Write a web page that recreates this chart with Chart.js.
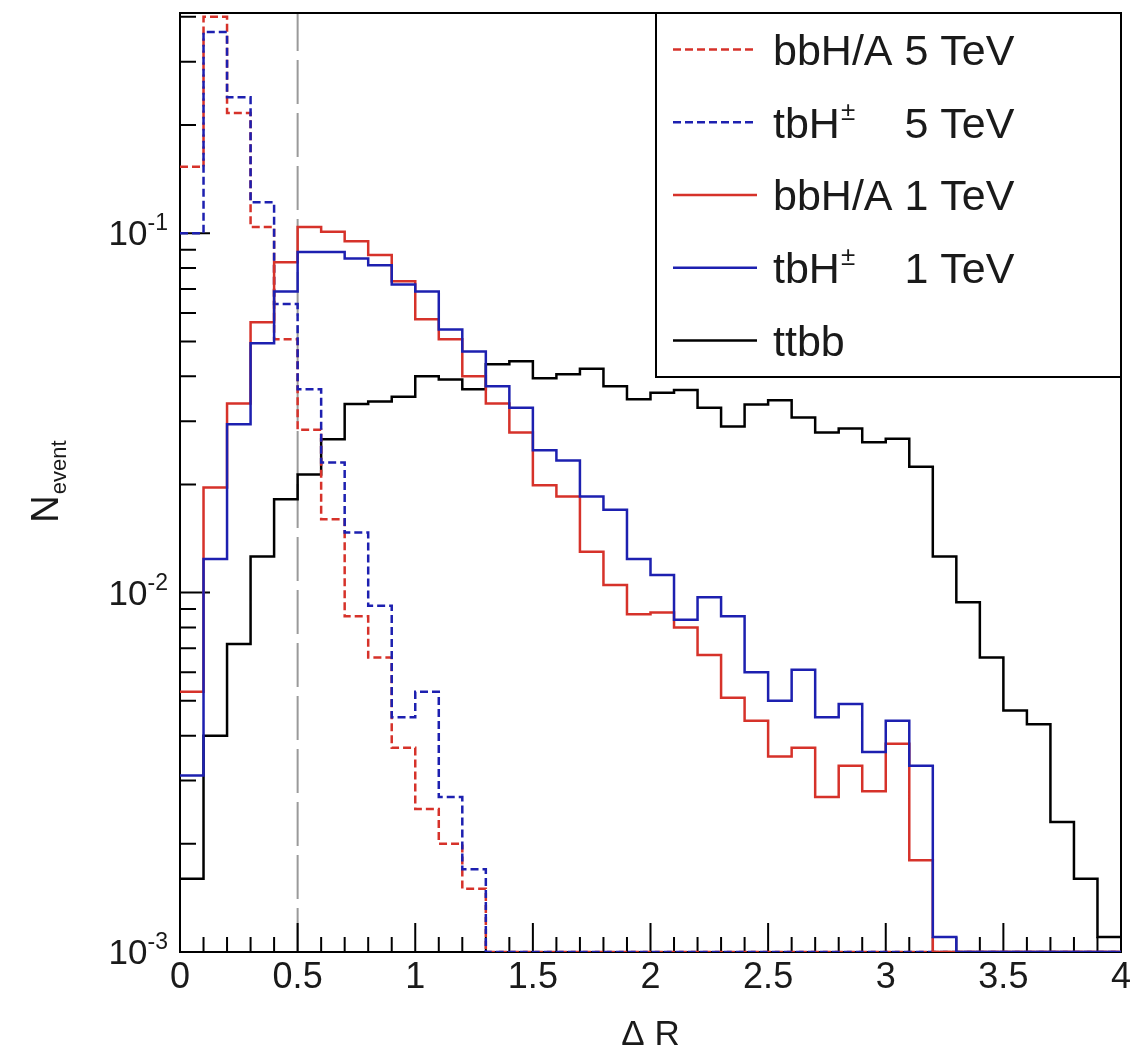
<!DOCTYPE html>
<html>
<head>
<meta charset="utf-8">
<script src="https://cdn.jsdelivr.net/npm/chart.js@4.4.1/dist/chart.umd.min.js"></script>
<style>
  html, body { margin: 0; padding: 0; background: #fff; }
  .chart-container { position: relative; width: 1138px; height: 1050px; }
</style>
</head>
<body>
<div class="chart-container"><canvas id="drChart"></canvas></div>
<script>
// Delta R histograms, 40 bins of width 0.1 from 0 to 4
const binEdges = [0, 0.1, 0.2, 0.3, 0.4, 0.5, 0.6, 0.7, 0.8, 0.9, 1.0, 1.1, 1.2, 1.3, 1.4, 1.5, 1.6, 1.7, 1.8, 1.9,
  2.0, 2.1, 2.2, 2.3, 2.4, 2.5, 2.6, 2.7, 2.8, 2.9, 3.0, 3.1, 3.2, 3.3, 3.4, 3.5, 3.6, 3.7, 3.8, 3.9, 4.0];

const bbH5 = [0.153, 0.40, 0.216, 0.104, 0.0507, 0.0284, 0.0160, 0.0086, 0.0066, 0.0037,
  0.0025, 0.0020, 0.0015, 0, 0, 0, 0, 0, 0, 0,
  0, 0, 0, 0, 0, 0, 0, 0, 0, 0,
  0, 0, 0, 0, 0, 0, 0, 0, 0, 0];
const tbH5 = [0.100, 0.363, 0.239, 0.122, 0.0635, 0.0368, 0.0230, 0.0147, 0.0092, 0.0045,
  0.0053, 0.0027, 0.0017, 0, 0, 0, 0, 0, 0, 0,
  0, 0, 0, 0, 0, 0, 0, 0, 0, 0,
  0, 0, 0, 0, 0, 0, 0, 0, 0, 0];
const bbH1 = [0.0053, 0.0196, 0.0336, 0.0565, 0.083, 0.104, 0.101, 0.095, 0.087, 0.0735,
  0.0576, 0.0507, 0.040, 0.0336, 0.0279, 0.0199, 0.0185, 0.0130, 0.0105, 0.0087,
  0.0088, 0.0080, 0.0067, 0.0051, 0.0044, 0.0035, 0.0037, 0.0027, 0.0033, 0.0028,
  0.0038, 0.0018, 0, 0, 0, 0, 0, 0, 0, 0];
const tbH1 = [0.0031, 0.0124, 0.0294, 0.0494, 0.0688, 0.0887, 0.0887, 0.0850, 0.0815, 0.072,
  0.0688, 0.054, 0.0469, 0.0375, 0.0327, 0.0249, 0.0233, 0.0185, 0.0170, 0.0124,
  0.0112, 0.0084, 0.0097, 0.0086, 0.0060, 0.0050, 0.0061, 0.0045, 0.0049, 0.0036,
  0.0044, 0.0033, 0.0011, 0, 0, 0, 0, 0, 0, 0];
const ttbb = [0.0016, 0.0040, 0.0072, 0.0126, 0.0182, 0.0213, 0.0267, 0.0335, 0.0340, 0.0351,
  0.0400, 0.0392, 0.0368, 0.0432, 0.0440, 0.0395, 0.0405, 0.0420, 0.0375, 0.0345,
  0.0360, 0.0366, 0.0327, 0.0290, 0.0334, 0.0343, 0.0307, 0.0279, 0.0286, 0.0262,
  0.0268, 0.0224, 0.0126, 0.0094, 0.0066, 0.0047, 0.0043, 0.0023, 0.0016, 0.0011];

const xTickValues = [0, 0.5, 1, 1.5, 2, 2.5, 3, 3.5, 4];
const xTickLabels = ['0', '0.5', '1', '1.5', '2', '2.5', '3', '3.5', '4'];
const yTickValues = [0.001, 0.01, 0.1];
const yTickExponents = ['-3', '-2', '-1'];
const cutDR = 0.5;

const Y_MIN = 0.001;
const Y_MAX = 0.41;
const RED = '#d6322a';
const BLUE = '#1d20b0';
const FONT = '"Liberation Sans", Arial, Helvetica, sans-serif';
const INK = '#1a1a1a';

// empty bins sit on the frame, like a clipped log histogram
const toSteps = (vals) => binEdges.map((x, i) => {
  const v = vals[Math.min(i, vals.length - 1)];
  return { x: x, y: v > 0 ? v : Y_MIN };
});

const series = [
  { label: 'bbH/A 5 TeV', data: bbH5, color: RED, dash: [8, 4], order: 4 },
  { label: 'tbH 5 TeV', data: tbH5, color: BLUE, dash: [8, 4], order: 3, charged: true, mass: '5 TeV' },
  { label: 'bbH/A 1 TeV', data: bbH1, color: RED, dash: [], order: 2 },
  { label: 'tbH 1 TeV', data: tbH1, color: BLUE, dash: [], order: 1, charged: true, mass: '1 TeV' },
  { label: 'ttbb', data: ttbb, color: '#000000', dash: [], order: 5 }
];

const datasets = series.map(s => ({
  label: s.label,
  data: toSteps(s.data),
  borderColor: s.color,
  borderDash: s.dash,
  borderWidth: 2.5,
  stepped: 'before',
  pointRadius: 0,
  fill: false,
  order: s.order
}));

// frame, inward ticks and the cut marker
const framePlugin = {
  id: 'framePlugin',
  beforeDatasetsDraw(chart) {
    const { ctx, chartArea: a, scales: { x, y } } = chart;
    ctx.save();
    // cut at Delta R = 0.5
    ctx.strokeStyle = '#9a9a9a';
    ctx.lineWidth = 2;
    ctx.setLineDash([44, 9]);
    const cx = x.getPixelForValue(cutDR);
    ctx.beginPath();
    ctx.moveTo(cx, a.bottom);
    ctx.lineTo(cx, a.top);
    ctx.stroke();
    ctx.setLineDash([]);

    ctx.strokeStyle = '#000';
    ctx.lineWidth = 2;
    ctx.strokeRect(a.left, a.top, a.right - a.left, a.bottom - a.top);

    ctx.beginPath();
    // x ticks every 0.1, long ones every 0.5
    for (let i = 0; i < binEdges.length; i++) {
      const px = x.getPixelForValue(binEdges[i]);
      const len = (i % 5 === 0) ? 29 : 15;
      ctx.moveTo(px, a.bottom);
      ctx.lineTo(px, a.bottom - len);
    }
    // y ticks: decades long, 2..9 short
    for (let d = 0; d < yTickValues.length; d++) {
      for (let k = 1; k <= 9; k++) {
        const v = yTickValues[d] * k;
        if (v > Y_MAX) break;
        const py = y.getPixelForValue(v);
        const len = k === 1 ? 30 : 16;
        ctx.moveTo(a.left, py);
        ctx.lineTo(a.left + len, py);
      }
    }
    ctx.stroke();
    ctx.restore();
  },
  afterDatasetsDraw(chart) {
    const { ctx, chartArea: a } = chart;
    ctx.save();
    // legend box in the upper right corner
    const box = { left: 656, top: a.top, right: a.right, bottom: 377 };
    ctx.fillStyle = '#fff';
    ctx.fillRect(box.left, box.top, box.right - box.left, box.bottom - box.top);
    ctx.strokeStyle = '#000';
    ctx.lineWidth = 2;
    ctx.strokeRect(box.left, box.top, box.right - box.left, box.bottom - box.top);

    const rowH = (box.bottom - box.top) / series.length;
    const size = 43;
    const textX = 773;
    ctx.font = size + 'px ' + FONT;
    const massX = textX + ctx.measureText('bbH/A ').width;
    series.forEach((s, i) => {
      const ry = box.top + rowH * (i + 0.5);
      ctx.strokeStyle = s.color;
      ctx.lineWidth = 2.5;
      ctx.setLineDash(s.dash);
      ctx.beginPath();
      ctx.moveTo(673, ry);
      ctx.lineTo(757, ry);
      ctx.stroke();
      ctx.setLineDash([]);

      ctx.fillStyle = INK;
      ctx.textAlign = 'left';
      ctx.textBaseline = 'alphabetic';
      const base = ry + size * 0.36;
      if (s.charged) {
        ctx.font = size + 'px ' + FONT;
        ctx.fillText('tbH', textX, base);
        const w = ctx.measureText('tbH').width;
        ctx.font = Math.round(size * 0.6) + 'px ' + FONT;
        ctx.fillText('\u00b1', textX + w + 1, base - size * 0.42);
        ctx.font = size + 'px ' + FONT;
        ctx.fillText(s.mass, massX, base);
      } else {
        ctx.font = size + 'px ' + FONT;
        ctx.fillText(s.label, textX, base);
      }
    });
    ctx.restore();
  },
  afterDraw(chart) {
    const { ctx, chartArea: a, scales: { x, y } } = chart;
    ctx.save();
    ctx.fillStyle = INK;
    // x tick labels
    ctx.font = '36px ' + FONT;
    ctx.textAlign = 'center';
    ctx.textBaseline = 'alphabetic';
    xTickValues.forEach((v, i) => {
      ctx.fillText(xTickLabels[i], x.getPixelForValue(v), 988);
    });
    // x title
    ctx.font = '35px ' + FONT;
    ctx.fillText('\u0394 R', (a.left + a.right) / 2, 1045);

    // y tick labels as 10^n
    yTickValues.forEach((v, i) => {
      const py = y.getPixelForValue(v);
      ctx.font = '23px ' + FONT;
      const ew = ctx.measureText(yTickExponents[i]).width;
      const right = 168;
      ctx.textAlign = 'left';
      ctx.fillText(yTickExponents[i], right - ew, py - 3);
      ctx.font = '35px ' + FONT;
      ctx.textAlign = 'right';
      ctx.fillText('10', right - ew, py + 12);
    });

    // y title N_event, reading upwards
    ctx.translate(58, 482);
    ctx.rotate(-Math.PI / 2);
    ctx.textAlign = 'left';
    ctx.font = '38px ' + FONT;
    const nW = ctx.measureText('N').width;
    ctx.font = '22px ' + FONT;
    const eW = ctx.measureText('event').width;
    const start = -(nW + eW) / 2;
    ctx.font = '38px ' + FONT;
    ctx.fillText('N', start, 0);
    ctx.font = '22px ' + FONT;
    ctx.fillText('event', start + nW + 1, 8);
    ctx.restore();
  }
};

new Chart(document.getElementById('drChart').getContext('2d'), {
  type: 'line',
  data: { datasets: datasets },
  options: {
    responsive: true,
    maintainAspectRatio: false,
    animation: false,
    events: [],
    layout: { padding: { left: 180, right: 17, top: 13, bottom: 98 } },
    plugins: {
      legend: { display: false },
      tooltip: { enabled: false }
    },
    scales: {
      x: { type: 'linear', min: 0, max: 4, display: false },
      y: { type: 'logarithmic', min: Y_MIN, max: Y_MAX, display: false }
    }
  },
  plugins: [framePlugin]
});
</script>
</body>
</html>
